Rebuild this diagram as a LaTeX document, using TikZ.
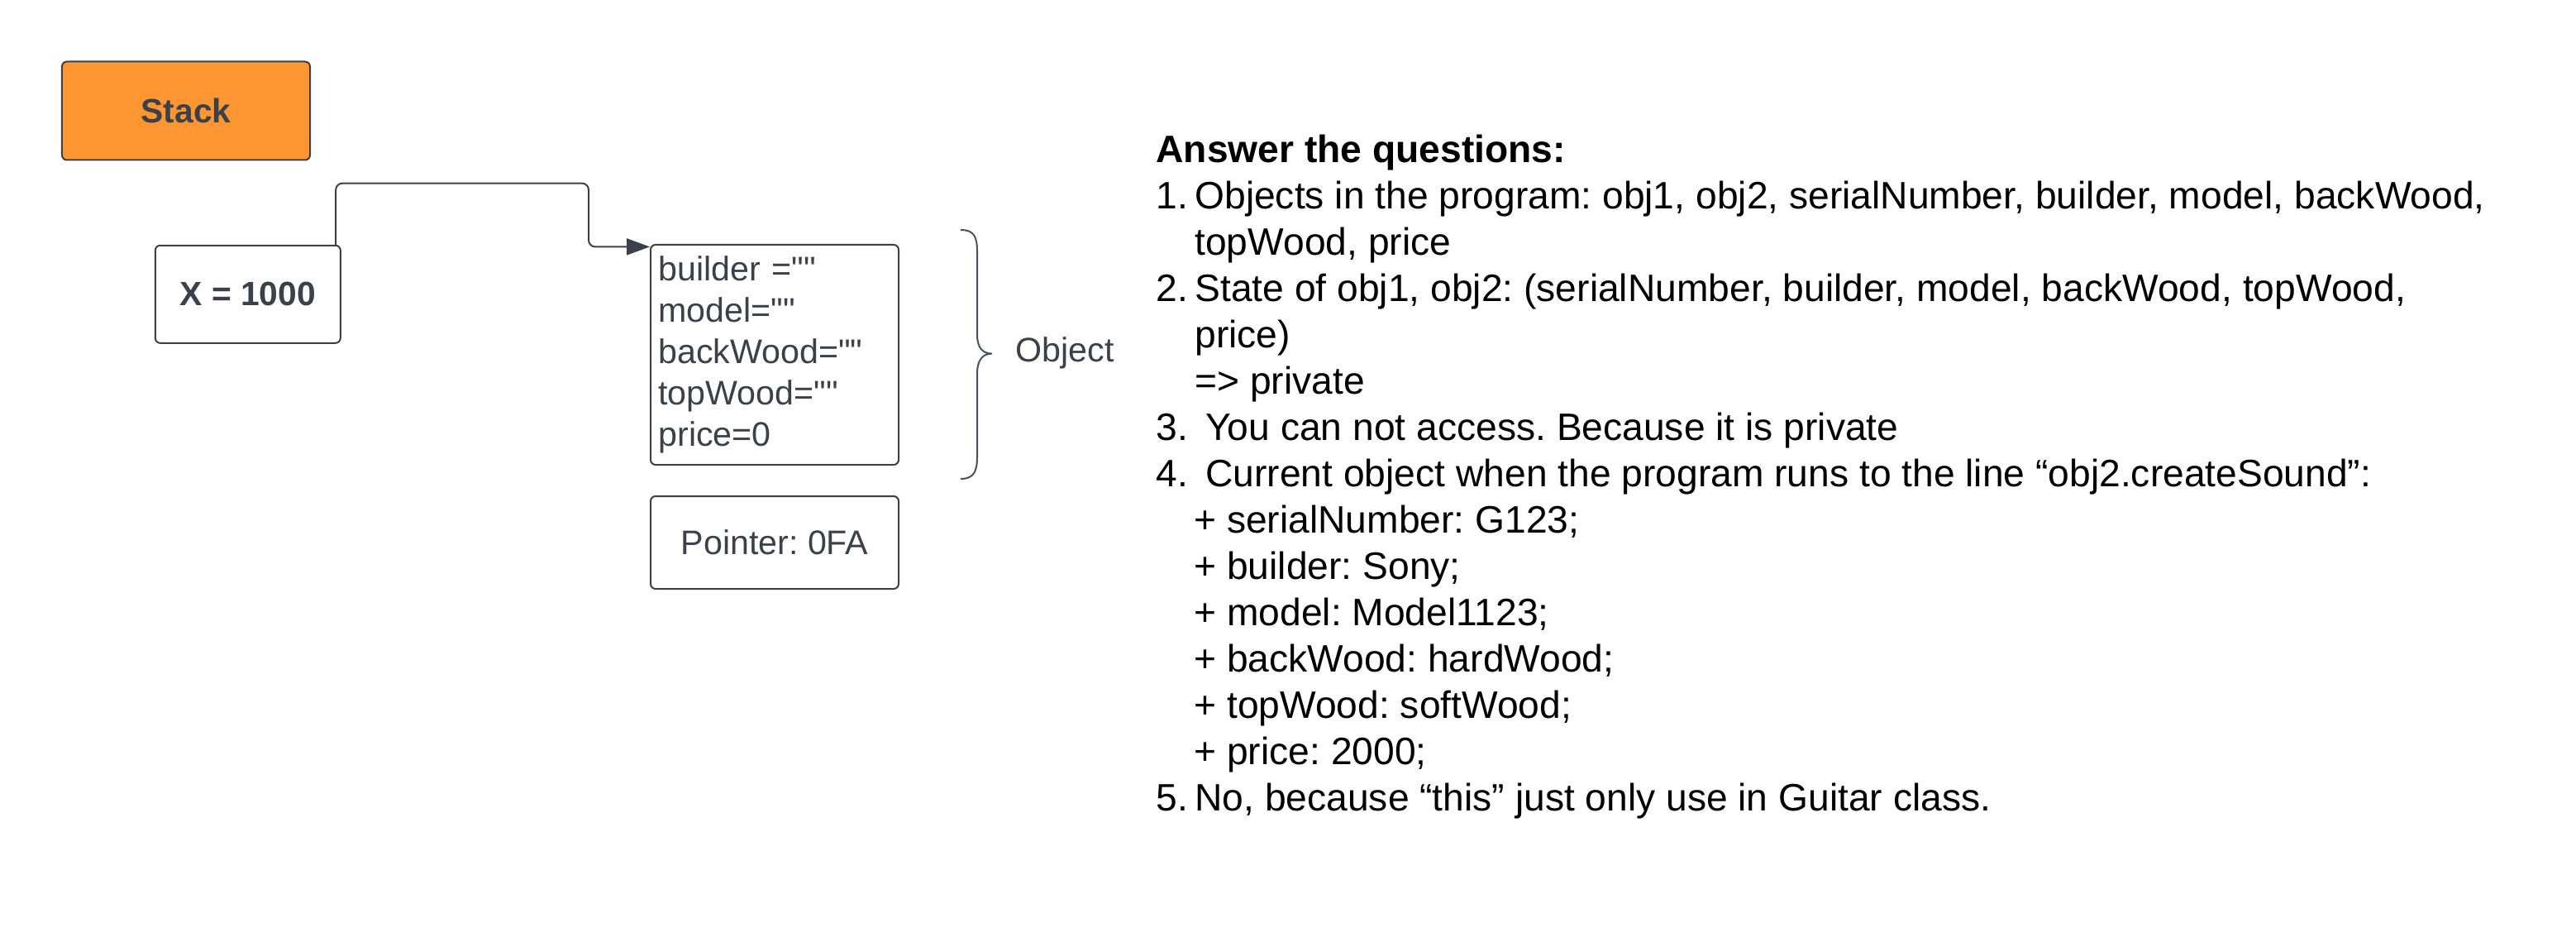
\documentclass[tikz,border=0pt]{standalone}
\usepackage{fontspec}
\setmainfont{Liberation Sans}
\usetikzlibrary{arrows.meta}
\definecolor{stackorange}{HTML}{FC9632}
\definecolor{linegray}{HTML}{3A414A}
\definecolor{bracegray}{HTML}{4A525C}
\newcommand{\qq}{\textquotedbl\textquotedbl}
\frenchspacing

\tikzset{
  box/.style={draw=linegray, line width=1bp, rounded corners=3bp, text=linegray, inner sep=0pt},
  boldfont/.style={font=\fontsize{20.4bp}{24bp}\selectfont\bfseries},
  boxfont/.style={font=\fontsize{20.6bp}{25bp}\selectfont},
  ptr/.style={draw=linegray, line width=1bp, rounded corners=4bp, -{Triangle[length=14bp,width=10bp]}}
}

\begin{document}
\begin{tikzpicture}[x=1bp, y=-1bp]
  \useasboundingbox (0,0) rectangle (1558,566.5);
  % stack side
  \node[box, boldfont, fill=stackorange, minimum width=150bp, minimum height=59.5bp] (stack) at (112.5,67) {Stack};
  \node[box, boldfont, minimum width=112bp, minimum height=59bp] (X) at (149.9,177.9) {X = 1000};

  % heap side
  \node[box, boxfont, minimum width=150bp, minimum height=133bp, text width=140.6bp, align=left] (obj) at (468.5,214.5)
    {builder =\qq\\model=\qq\\backWood=\qq\\topWood=\qq\\price=0};
  \node[box, boxfont, minimum width=150bp, minimum height=56bp] (pointer) at (468.5,328) {Pointer: 0FA};

  % reference from X to the object
  \coordinate (bend) at (356,110.8);
  \draw[ptr] ([xshift=-3.3bp]X.north east) |- (bend) |- ([yshift=-1.7bp]obj.north west);

  % brace round the object
  \draw[bracegray, line width=1bp]
    (581,139) .. controls (589,139) and (591,143) .. (591,152) -- (591,202)
    .. controls (591,210) and (594,213.8) .. (600,213.8)
    .. controls (594,213.8) and (591,218) .. (591,226) -- (591,276)
    .. controls (591,285) and (589,289.5) .. (581,289.5);
  \node[boxfont, text=linegray, anchor=base west, inner sep=0pt] (objlabel) at (614,218.6) {Object};

  % answers (base anchor sits on the last line)
  \node[anchor=base west, inner sep=0pt, align=left, font=\fontsize{23.1bp}{28bp}\selectfont] (answers) at (699,490.3)
    {\textbf{Answer the questions:}\\
     \makebox[23.5bp][l]{1.}Objects in the program: obj1, obj2, serialNumber, builder, model, backWood,\\
     \hspace*{23.5bp}topWood, price\\
     \makebox[23.5bp][l]{2.}State of obj1, obj2: (serialNumber, builder, model, backWood, topWood,\\
     \hspace*{23.5bp}price)\\
     \hspace*{23.5bp}=> private\\
     \makebox[30bp][l]{3.}You can not access. Because it is private\\
     \makebox[30bp][l]{4.}Current object when the program runs to the line “obj2.createSound”:\\
     \hspace*{23bp}+ serialNumber: G123;\\
     \hspace*{23bp}+ builder: Sony;\\
     \hspace*{23bp}+ model: Model1123;\\
     \hspace*{23bp}+ backWood: hardWood;\\
     \hspace*{23bp}+ topWood: softWood;\\
     \hspace*{23bp}+ price: 2000;\\
     \makebox[23.5bp][l]{5.}No, because “this” just only use in Guitar class.};
\end{tikzpicture}
\end{document}
